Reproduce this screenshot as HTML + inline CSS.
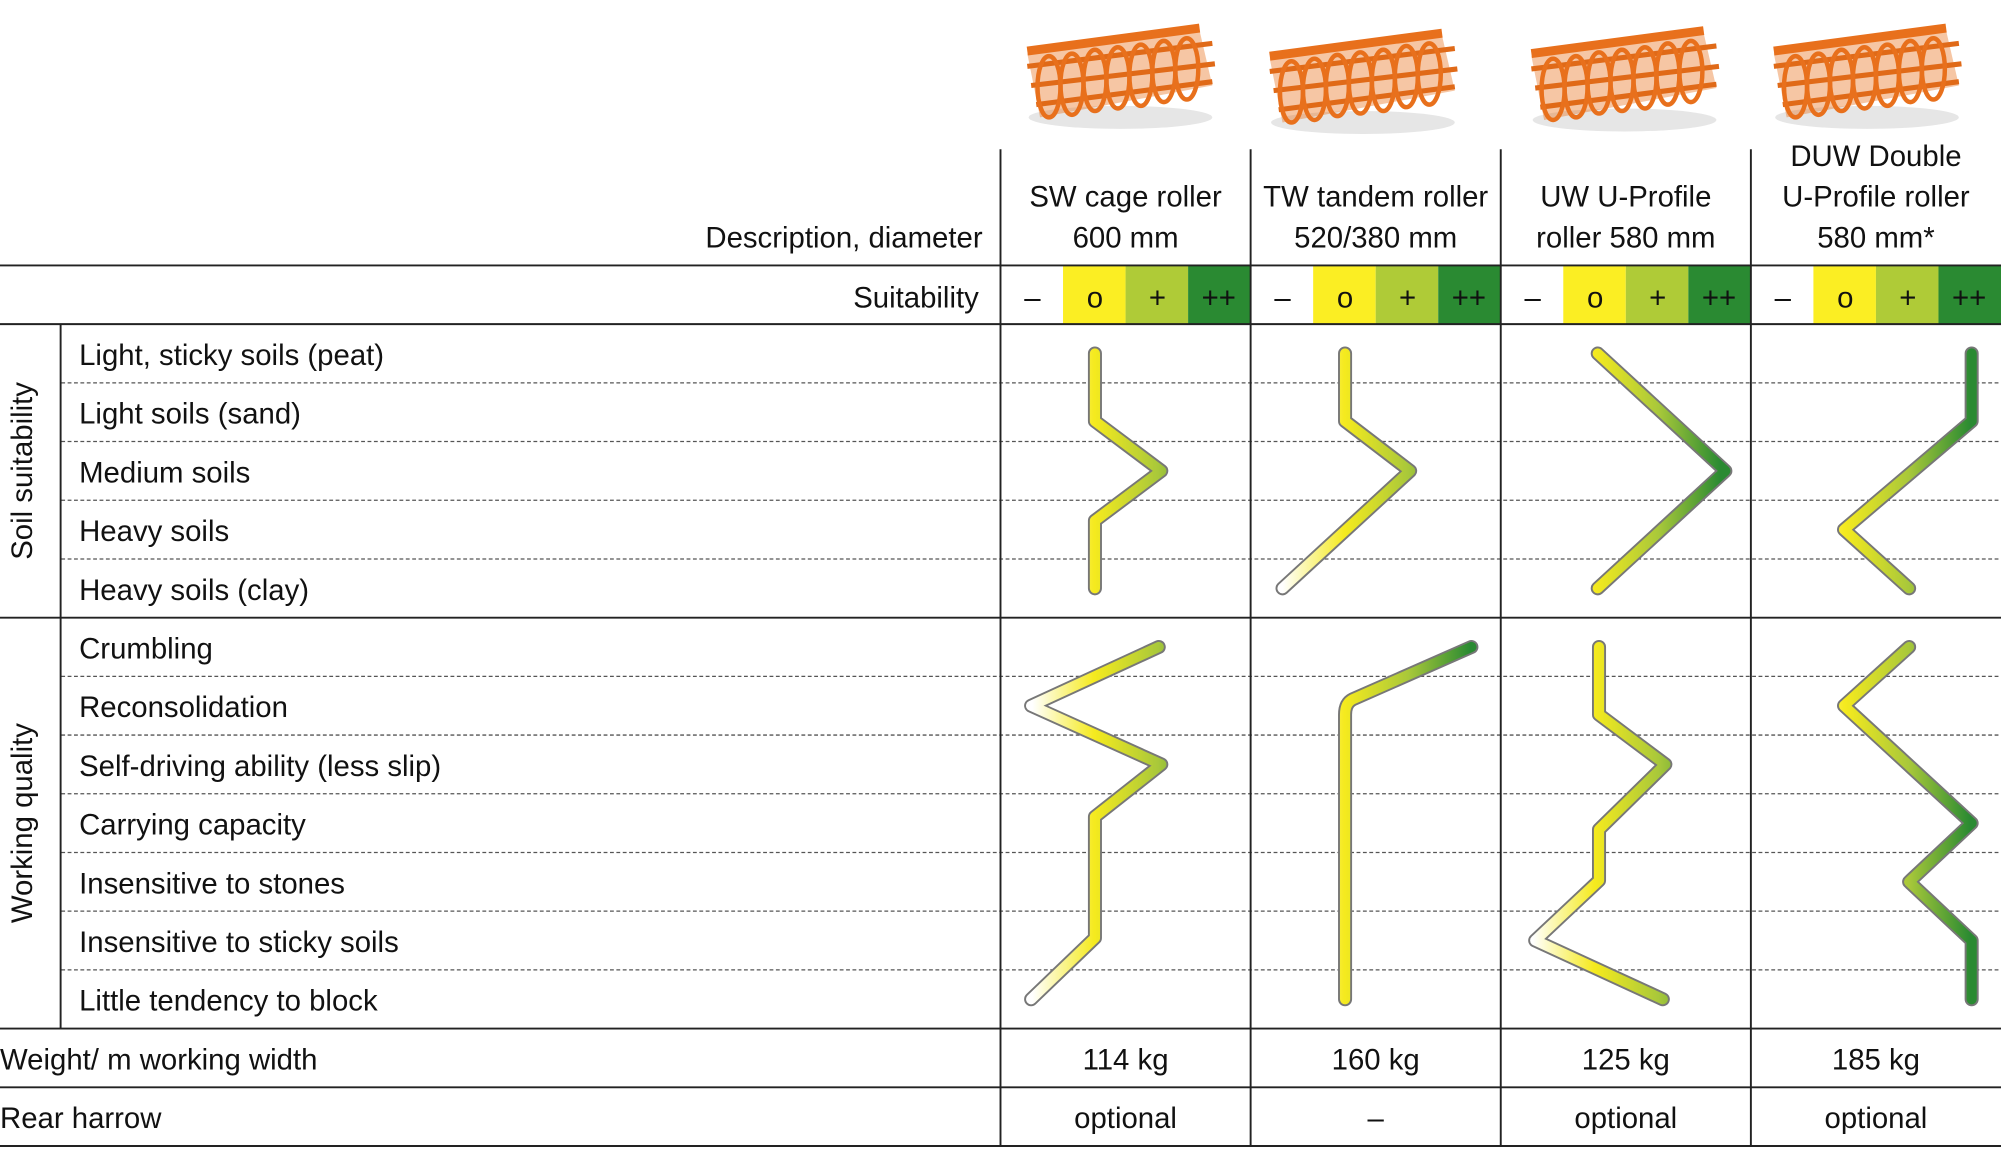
<!DOCTYPE html>
<html><head><meta charset="utf-8"><style>
html,body{margin:0;padding:0;background:#fff}
svg{display:block}
text{font-family:"Liberation Sans Narrow","Liberation Sans",sans-serif;font-size:23px;fill:#111}
</style></head><body>
<svg width="2001" height="1159" viewBox="0 0 1568 908.2" xmlns="http://www.w3.org/2000/svg">
<defs>
<linearGradient id="g0" gradientUnits="userSpaceOnUse" x1="809" y1="0" x2="956" y2="0"><stop offset="0" stop-color="#fff"/><stop offset="0.33" stop-color="#f5ea1e"/><stop offset="0.67" stop-color="#a9c83a"/><stop offset="1" stop-color="#2a8a32"/></linearGradient>
<linearGradient id="g1" gradientUnits="userSpaceOnUse" x1="1005" y1="0" x2="1152" y2="0"><stop offset="0" stop-color="#fff"/><stop offset="0.33" stop-color="#f5ea1e"/><stop offset="0.67" stop-color="#a9c83a"/><stop offset="1" stop-color="#2a8a32"/></linearGradient>
<linearGradient id="g2" gradientUnits="userSpaceOnUse" x1="1201" y1="0" x2="1348" y2="0"><stop offset="0" stop-color="#fff"/><stop offset="0.33" stop-color="#f5ea1e"/><stop offset="0.67" stop-color="#a9c83a"/><stop offset="1" stop-color="#2a8a32"/></linearGradient>
<linearGradient id="g3" gradientUnits="userSpaceOnUse" x1="1397" y1="0" x2="1544" y2="0"><stop offset="0" stop-color="#fff"/><stop offset="0.33" stop-color="#f5ea1e"/><stop offset="0.67" stop-color="#a9c83a"/><stop offset="1" stop-color="#2a8a32"/></linearGradient>
<g id="roll">
<ellipse cx="78" cy="80" rx="72" ry="9" fill="#e6e6e6"/>
<path d="M5 30 L140 12 L150 55 L15 80 Z" fill="#e8701c" opacity="0.4"/>
<path d="M5 28 L140 10" stroke="#e8701c" stroke-width="7"/>
<path d="M5 40 L150 22 M8 55 L152 38 M12 70 L150 52" stroke="#e06a18" stroke-width="4"/>
<g fill="none" stroke="#e8701c" stroke-width="3.5"><ellipse cx="22" cy="56" rx="9" ry="24"/><ellipse cx="40" cy="54" rx="9" ry="24"/><ellipse cx="58" cy="51" rx="9" ry="24"/><ellipse cx="76" cy="49" rx="9" ry="24"/><ellipse cx="94" cy="47" rx="9" ry="24"/><ellipse cx="112" cy="44" rx="9" ry="24"/><ellipse cx="130" cy="42" rx="9" ry="24"/></g>
</g>
</defs>
<use href="#roll" x="800" y="12"/>
<use href="#roll" x="990" y="16"/>
<use href="#roll" x="1195" y="14"/>
<use href="#roll" x="1385" y="12"/>

<g text-anchor="middle">
<text x="882" y="162">SW cage roller</text><text x="882" y="194">600 mm</text>
<text x="1078" y="162">TW tandem roller</text><text x="1078" y="194">520/380 mm</text>
<text x="1274" y="162">UW U-Profile</text><text x="1274" y="194">roller 580 mm</text>
<text x="1470" y="130">DUW Double</text><text x="1470" y="162">U-Profile roller</text><text x="1470" y="194">580 mm*</text>
</g>
<text x="770" y="194" text-anchor="end">Description, diameter</text>
<text x="767" y="241" text-anchor="end">Suitability</text>

<g>
<rect x="833" y="208" width="49" height="46" fill="#fbee23"/><rect x="882" y="208" width="49" height="46" fill="#afcb37"/><rect x="931" y="208" width="49" height="46" fill="#2a8a32"/>
<rect x="1029" y="208" width="49" height="46" fill="#fbee23"/><rect x="1078" y="208" width="49" height="46" fill="#afcb37"/><rect x="1127" y="208" width="49" height="46" fill="#2a8a32"/>
<rect x="1225" y="208" width="49" height="46" fill="#fbee23"/><rect x="1274" y="208" width="49" height="46" fill="#afcb37"/><rect x="1323" y="208" width="49" height="46" fill="#2a8a32"/>
<rect x="1421" y="208" width="49" height="46" fill="#fbee23"/><rect x="1470" y="208" width="49" height="46" fill="#afcb37"/><rect x="1519" y="208" width="49" height="46" fill="#2a8a32"/>
</g>
<g text-anchor="middle">
<text x="809" y="241">–</text><text x="858" y="241">o</text><text x="907" y="241">+</text><text x="955" y="241">++</text>
<text x="1005" y="241">–</text><text x="1054" y="241">o</text><text x="1103" y="241">+</text><text x="1151" y="241">++</text>
<text x="1201" y="241">–</text><text x="1250" y="241">o</text><text x="1299" y="241">+</text><text x="1347" y="241">++</text>
<text x="1397" y="241">–</text><text x="1446" y="241">o</text><text x="1495" y="241">+</text><text x="1543" y="241">++</text>
</g>

<g stroke="#555" stroke-width="1" stroke-dasharray="3,2">
<path d="M48 300H1568M48 346H1568M48 392H1568M48 438H1568M48 530H1568M48 576H1568M48 622H1568M48 668H1568M48 714H1568M48 760H1568"/>
</g>
<g stroke="#222" stroke-width="1.5" fill="none">
<path d="M0 208H1568M0 254H1568M0 484H1568M0 806H1568M0 852H1568M0 898H1568"/>
<path d="M784 117V898M980 117V898M1176 117V898M1372 117V898M47.5 254V806"/>
</g>

<g>
<text x="62" y="286">Light, sticky soils (peat)</text>
<text x="62" y="332">Light soils (sand)</text>
<text x="62" y="378">Medium soils</text>
<text x="62" y="424">Heavy soils</text>
<text x="62" y="470">Heavy soils (clay)</text>
<text x="62" y="516">Crumbling</text>
<text x="62" y="562">Reconsolidation</text>
<text x="62" y="608">Self-driving ability (less slip)</text>
<text x="62" y="654">Carrying capacity</text>
<text x="62" y="700">Insensitive to stones</text>
<text x="62" y="746">Insensitive to sticky soils</text>
<text x="62" y="792">Little tendency to block</text>
<text x="0" y="838">Weight/ m working width</text>
<text x="0" y="884">Rear harrow</text>
</g>
<text transform="translate(25,369) rotate(-90)" text-anchor="middle">Soil suitability</text>
<text transform="translate(25,645) rotate(-90)" text-anchor="middle">Working quality</text>
<g text-anchor="middle">
<text x="882" y="838">114 kg</text><text x="1078" y="838">160 kg</text><text x="1274" y="838">125 kg</text><text x="1470" y="838">185 kg</text>
<text x="882" y="884">optional</text><text x="1078" y="884">–</text><text x="1274" y="884">optional</text><text x="1470" y="884">optional</text>
</g>

<g fill="none" stroke-linejoin="round" stroke-linecap="round">
<g stroke="#777" stroke-width="11">
<path d="M858 277V330L910 369L858 408V461"/>
<path d="M1054 277V330L1105 369L1005 461"/>
<path d="M1252 277L1352 369L1252 461"/>
<path d="M1545 277V330L1445 415L1496 461"/>
<path d="M908 507L808 553L910 599L858 640V735L808 783"/>
<path d="M1153 507L1060 548Q1054 551 1054 560V783"/>
<path d="M1253 507V560L1305 599L1253 650V690L1203 737L1303 783"/>
<path d="M1496 507L1445 553L1545 645L1496 691L1545 737V783"/>
</g>
<g stroke-width="8">
<path stroke="url(#g0)" d="M858 277V330L910 369L858 408V461"/>
<path stroke="url(#g1)" d="M1054 277V330L1105 369L1005 461"/>
<path stroke="url(#g2)" d="M1252 277L1352 369L1252 461"/>
<path stroke="url(#g3)" d="M1545 277V330L1445 415L1496 461"/>
<path stroke="url(#g0)" d="M908 507L808 553L910 599L858 640V735L808 783"/>
<path stroke="url(#g1)" d="M1153 507L1060 548Q1054 551 1054 560V783"/>
<path stroke="url(#g2)" d="M1253 507V560L1305 599L1253 650V690L1203 737L1303 783"/>
<path stroke="url(#g3)" d="M1496 507L1445 553L1545 645L1496 691L1545 737V783"/>
</g>
</g>
</svg>
</body></html>
